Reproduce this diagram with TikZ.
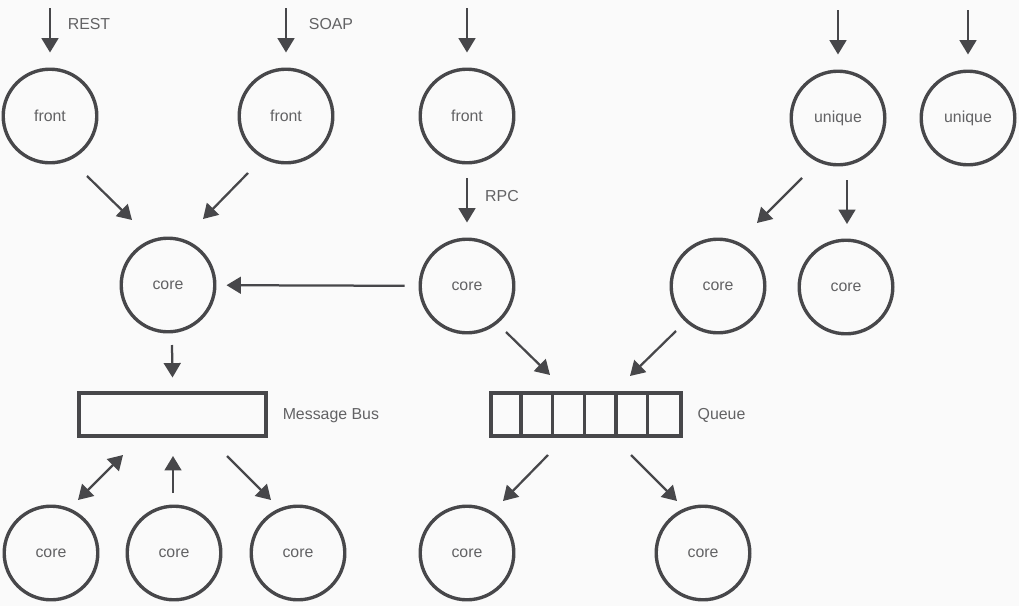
\documentclass[tikz,border=0pt]{standalone}
\usepackage{fontspec}
\setmainfont{Liberation Sans}
\usetikzlibrary{arrows.meta, positioning}
\usepackage{xcolor}
\definecolor{ink}{HTML}{47474A}
\definecolor{inktext}{HTML}{626264}
\definecolor{paper}{HTML}{FAFAFA}

\begin{document}
\begin{tikzpicture}[
    x=0.25mm, y=-0.25mm,
    font=\fontsize{11.3}{13}\selectfont,
    svc/.style={circle, draw=ink, line width=2.4pt, minimum size=2.34cm, inner sep=0pt, text=inktext},
    buf/.style={draw=ink, line width=2.4pt, minimum height=1.08cm, inner sep=0pt},
    lbl/.style={text=inktext},
    arr/.style={draw=ink, line width=1.6pt, ->},
    >={Triangle[length=3.6mm, width=4.2mm]}
  ]
  % canvas
  \fill[paper] (0,0) rectangle (1019,606);

  % ---- entry services ----
  \node[svc] (front1) at (50,116) {front};
  \node[svc] (front2) at (286,116) {front};
  \node[svc] (front3) at (467,116) {front};
  \node[svc] (uniq1) at (838,118) {unique};
  \node[svc] (uniq2) at (968,118) {unique};

  \coordinate (inRest) at (50,8);
  \coordinate (inSoap) at (286,8);
  \coordinate (inFront) at (467,8);
  \coordinate (inUniq1) at (838,10);
  \coordinate (inUniq2) at (968,10);
  \draw[arr, shorten >=3.75mm] (inRest) -- (front1);
  \draw[arr, shorten >=3.75mm] (inSoap) -- (front2);
  \draw[arr, shorten >=3.75mm] (inFront) -- (front3);
  \draw[arr, shorten >=3.75mm] (inUniq1) -- (uniq1);
  \draw[arr, shorten >=3.75mm] (inUniq2) -- (uniq2);
  \node[lbl] (restLbl) at (89,24) {REST};
  \node[lbl] (soapLbl) at (331,24) {SOAP};

  % ---- core services ----
  \node[svc] (core1) at (168,285) {core};
  \node[svc] (core2) at (467,286) {core};
  \node[svc] (core3) at (718,286) {core};
  \node[svc] (core4) at (846,287) {core};

  \draw[arr] ([shift={(37,60)}]front1.center) -- ([shift={(-36,-65)}]core1.center);
  \draw[arr] ([shift={(-38,57)}]front2.center) -- ([shift={(35,-66)}]core1.center);
  \coordinate (inRpc) at (467,178);
  \draw[arr, shorten >=3.75mm] (inRpc) -- (core2);
  \node[lbl] (rpcLbl) at (502,196) {RPC};
  \draw[arr, shorten <=3.5mm, shorten >=2.5mm] (core2) -- (core1);
  \draw[arr] ([shift={(-36,60)}]uniq1.center) -- ([shift={(39,-63)}]core3.center);
  \draw[arr] ([shift={(9,62)}]uniq1.center) -- ([shift={(1,-63)}]core4.center);

  % ---- message bus & queue ----
  \node[buf, minimum width=4.68cm] (bus) at (172.5,414.5) {};
  \node[lbl, right=2.5mm of bus, yshift=-1pt] (busLbl) {Message Bus};
  \node[buf, minimum width=4.75cm] (queue) at (586,414.5) {};
  \foreach \i in {1,...,5}{
    \draw[ink, line width=2.4pt] ([xshift=\i*7.92mm]queue.north west) -- ([xshift=\i*7.92mm]queue.south west);
  }
  \node[lbl, right=2.5mm of queue, yshift=-1pt] (queueLbl) {Queue};

  \draw[arr] ([shift={(4,60)}]core1.center) -- ([shift={(0,-37)}]bus.center);
  \draw[arr] ([shift={(39,46)}]core2.center) -- ([shift={(-36,-39.5)}]queue.center);
  \draw[arr] ([shift={(-42,45)}]core3.center) -- ([shift={(44,-38.5)}]queue.center);

  % ---- consumers ----
  \node[svc] (bot1) at (51,553) {core};
  \node[svc] (bot2) at (174,553) {core};
  \node[svc] (bot3) at (298,553) {core};
  \node[svc] (bot4) at (467,553) {core};
  \node[svc] (bot5) at (703,553) {core};

  \draw[arr, <->] ([shift={(-49.5,40.5)}]bus.center) -- ([shift={(27,-53)}]bot1.center);
  \draw[arr] ([shift={(-1,-60)}]bot2.center) -- ([shift={(0.5,41.5)}]bus.center);
  \draw[arr] ([shift={(54.5,41.5)}]bus.center) -- ([shift={(-27,-53)}]bot3.center);
  \draw[arr] ([shift={(-38,40.5)}]queue.center) -- ([shift={(36,-52)}]bot4.center);
  \draw[arr] ([shift={(45,40.5)}]queue.center) -- ([shift={(-26,-52)}]bot5.center);
\end{tikzpicture}
\end{document}
